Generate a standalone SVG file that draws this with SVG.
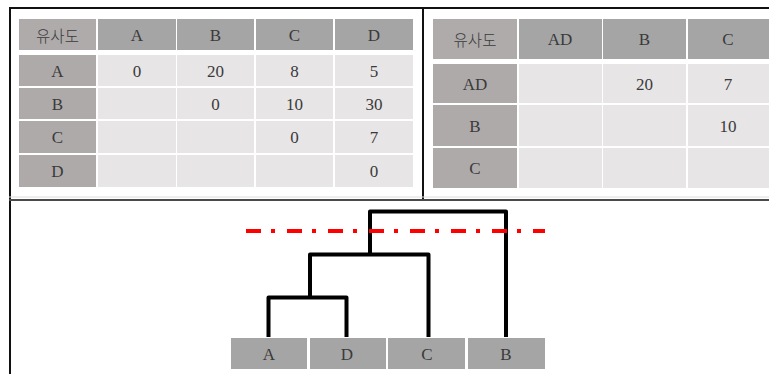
<svg xmlns="http://www.w3.org/2000/svg" width="769" height="374" viewBox="0 0 769 374">
  <style>
    .hd0 { fill: #afabab; }
    .hd { fill: #a5a5a5; }
    .rh { fill: #aeaaaa; }
    .cell { fill: #e7e5e6; }
    .leaf { fill: #a5a5a5; }
    text { font-family: "Liberation Serif", "DejaVu Serif", serif; font-size: 17px; fill: #3a3a3a; text-anchor: middle; dominant-baseline: central; }
    .kr { font-family: "Noto Sans CJK KR", sans-serif; font-size: 15.5px; font-weight: 300; }
    .frame { stroke: #111; stroke-width: 2; fill: none; }
    .tree { stroke: #000; stroke-width: 4; fill: none; stroke-linejoin: round; }
    .cut { stroke: #ff0000; stroke-width: 4; fill: none; stroke-dasharray: 15 10 4 12; }
  </style>
  <rect width="769" height="374" fill="#ffffff"/>

  <!-- frame -->
  <g id="frame">
    <line class="frame" x1="9" y1="8" x2="769" y2="8"/>
    <line class="frame" x1="10" y1="7" x2="10" y2="374"/>
    <line class="frame" x1="423" y1="7" x2="423" y2="200"/>
    <line x1="9" y1="197" x2="769" y2="197" stroke="#dddddd" stroke-width="1"/>
    <line x1="9" y1="200" x2="769" y2="200" stroke="#4a4a4a" stroke-width="2"/>
  </g>

  <!-- similarity matrix: A, B, C, D -->
  <g id="table1">
    <rect class="hd0" x="19" y="19" width="77" height="31"/>
    <rect class="hd" x="98" y="19" width="78" height="31"/>
    <rect class="hd" x="177" y="19" width="77" height="31"/>
    <rect class="hd" x="256" y="19" width="77" height="31"/>
    <rect class="hd" x="335" y="19" width="78" height="31"/>
    <text class="kr" x="57.5" y="34.5">유사도</text>
    <text x="137" y="35">A</text>
    <text x="215.5" y="35">B</text>
    <text x="294.5" y="35">C</text>
    <text x="374" y="35">D</text>

    <rect class="rh" x="19" y="55" width="77" height="31"/>
    <rect class="cell" x="98" y="55" width="78" height="31"/>
    <rect class="cell" x="177" y="55" width="77" height="31"/>
    <rect class="cell" x="256" y="55" width="77" height="31"/>
    <rect class="cell" x="335" y="55" width="78" height="31"/>
    <text x="57.5" y="71">A</text>
    <text x="137" y="71">0</text>
    <text x="215.5" y="71">20</text>
    <text x="294.5" y="71">8</text>
    <text x="374" y="71">5</text>

    <rect class="rh" x="19" y="88" width="77" height="31"/>
    <rect class="cell" x="98" y="88" width="78" height="31"/>
    <rect class="cell" x="177" y="88" width="77" height="31"/>
    <rect class="cell" x="256" y="88" width="77" height="31"/>
    <rect class="cell" x="335" y="88" width="78" height="31"/>
    <text x="57.5" y="104">B</text>
    <text x="215.5" y="104">0</text>
    <text x="294.5" y="104">10</text>
    <text x="374" y="104">30</text>

    <rect class="rh" x="19" y="121" width="77" height="32"/>
    <rect class="cell" x="98" y="121" width="78" height="32"/>
    <rect class="cell" x="177" y="121" width="77" height="32"/>
    <rect class="cell" x="256" y="121" width="77" height="32"/>
    <rect class="cell" x="335" y="121" width="78" height="32"/>
    <text x="57.5" y="137.5">C</text>
    <text x="294.5" y="137.5">0</text>
    <text x="374" y="137.5">7</text>

    <rect class="rh" x="19" y="155" width="77" height="32"/>
    <rect class="cell" x="98" y="155" width="78" height="32"/>
    <rect class="cell" x="177" y="155" width="77" height="32"/>
    <rect class="cell" x="256" y="155" width="77" height="32"/>
    <rect class="cell" x="335" y="155" width="78" height="32"/>
    <text x="57.5" y="171.5">D</text>
    <text x="374" y="171.5">0</text>
  </g>

  <!-- similarity matrix after merging A and D -->
  <g id="table2">
    <rect class="hd0" x="433" y="19" width="84" height="40"/>
    <rect class="hd" x="519" y="19" width="83" height="40"/>
    <rect class="hd" x="603" y="19" width="83" height="40"/>
    <rect class="hd" x="688" y="19" width="81" height="40"/>
    <text class="kr" x="475" y="39">유사도</text>
    <text x="560" y="39.5">AD</text>
    <text x="644.5" y="39.5">B</text>
    <text x="728" y="39.5">C</text>

    <rect class="rh" x="433" y="64" width="84" height="39"/>
    <rect class="cell" x="519" y="64" width="83" height="39"/>
    <rect class="cell" x="603" y="64" width="83" height="39"/>
    <rect class="cell" x="688" y="64" width="81" height="39"/>
    <text x="475" y="84">AD</text>
    <text x="644.5" y="84">20</text>
    <text x="728" y="84">7</text>

    <rect class="rh" x="433" y="105" width="84" height="41"/>
    <rect class="cell" x="519" y="105" width="83" height="41"/>
    <rect class="cell" x="603" y="105" width="83" height="41"/>
    <rect class="cell" x="688" y="105" width="81" height="41"/>
    <text x="475" y="126">B</text>
    <text x="728" y="126">10</text>

    <rect class="rh" x="433" y="148" width="84" height="40"/>
    <rect class="cell" x="519" y="148" width="83" height="40"/>
    <rect class="cell" x="603" y="148" width="83" height="40"/>
    <rect class="cell" x="688" y="148" width="81" height="40"/>
    <text x="475" y="168.5">C</text>
  </g>

  <!-- dendrogram leaves -->
  <g id="leafA"><rect class="leaf" x="231" y="338" width="76" height="31"/><text x="269" y="354">A</text></g>
  <g id="leafD"><rect class="leaf" x="310" y="338" width="76" height="31"/><text x="347" y="354">D</text></g>
  <g id="leafC"><rect class="leaf" x="388" y="338" width="77" height="31"/><text x="427" y="354">C</text></g>
  <g id="leafB"><rect class="leaf" x="468" y="338" width="77" height="31"/><text x="506" y="354">B</text></g>

  <!-- dendrogram connectors -->
  <g id="connectors">
    <path class="tree" d="M268.5,337 V297.5 H346.5 V337"/>
    <path class="tree" d="M310,297.5 V254.5 H428.5 V337"/>
    <path class="tree" d="M370,254.5 V211.5 H506 V337"/>
    <line class="cut" x1="246" y1="231" x2="545" y2="231"/>
  </g>
</svg>
